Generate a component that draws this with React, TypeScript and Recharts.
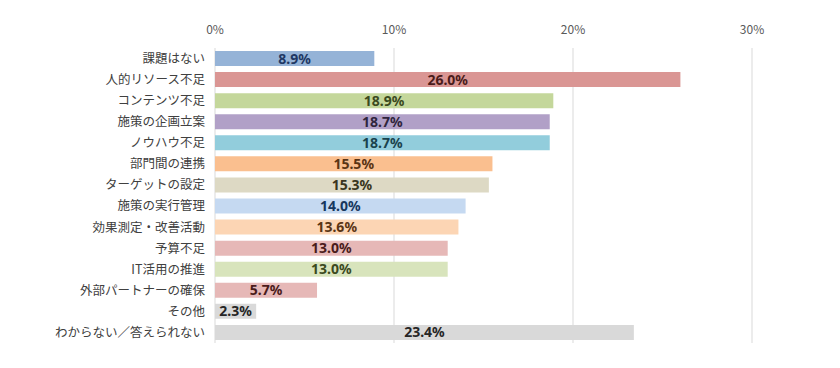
import React from "react";
import { BarChart, Bar, XAxis, YAxis, CartesianGrid, Cell, LabelList } from "recharts";

const categories = [
  "課題はない",
  "人的リソース不足",
  "コンテンツ不足",
  "施策の企画立案",
  "ノウハウ不足",
  "部門間の連携",
  "ターゲットの設定",
  "施策の実行管理",
  "効果測定・改善活動",
  "予算不足",
  "IT活用の推進",
  "外部パートナーの確保",
  "その他",
  "わからない／答えられない",
];

const values = [8.9, 26.0, 18.9, 18.7, 18.7, 15.5, 15.3, 14.0, 13.6, 13.0, 13.0, 5.7, 2.3, 23.4];

const barColors = [
  "#95B3D7",
  "#DA9694",
  "#C4D79B",
  "#B1A0C7",
  "#92CDDC",
  "#FABF8F",
  "#DDD9C4",
  "#C5D9F1",
  "#FCD5B4",
  "#E6B8B7",
  "#D8E4BC",
  "#E6B8B7",
  "#D9D9D9",
  "#D9D9D9",
];

const labelColors = [
  "#1F3864",
  "#4A1C1B",
  "#3B4A1E",
  "#2F253D",
  "#1A434E",
  "#5A3414",
  "#3A3620",
  "#17375E",
  "#5A3414",
  "#4A1C1B",
  "#3B4A1E",
  "#4A1C1B",
  "#262626",
  "#262626",
];

const xTicks = [0, 10, 20, 30];

const data = categories.map((name, i) => ({ name, value: values[i] }));

const FONT = "'Noto Sans CJK JP', 'Noto Sans', sans-serif";

const renderLabel = (props: any) => {
  const { x, y, width, height, index, value } = props;
  return (
    <text
      x={Number(x) + Number(width) / 2}
      y={Number(y) + Number(height) / 2 + 5}
      textAnchor="middle"
      fontSize={14}
      fontWeight={700}
      fontFamily="'Noto Sans', sans-serif"
      fill={labelColors[index]}
    >
      {Number(value).toFixed(1)}%
    </text>
  );
};

export default function App() {
  return (
    <div style={{ position: "absolute", left: 0, top: 0, background: "#fff" }}>
      <BarChart
        width={840}
        height={368}
        data={data}
        layout="vertical"
        margin={{ top: 20, right: 88, bottom: 25, left: 0 }}
      >
        <CartesianGrid horizontal={false} vertical={true} stroke="#D9D9D9" />
        <XAxis
          type="number"
          orientation="top"
          domain={[0, 30]}
          ticks={xTicks}
          tickFormatter={(v: number) => `${v}%`}
          axisLine={false}
          tickLine={false}
          height={28}
          tickMargin={8}
          tick={{ fontSize: 12, fill: "#595959", fontFamily: FONT }}
        />
        <YAxis
          type="category"
          dataKey="name"
          width={215}
          axisLine={false}
          tickLine={false}
          tickMargin={4}
          interval={0}
          tick={{ fontSize: 12.5, fill: "#404040", fontFamily: FONT }}
        />
        <Bar dataKey="value" barSize={15} isAnimationActive={false}>
          {data.map((d, i) => (
            <Cell key={d.name} fill={barColors[i]} />
          ))}
          <LabelList dataKey="value" content={renderLabel} />
        </Bar>
      </BarChart>
    </div>
  );
}
